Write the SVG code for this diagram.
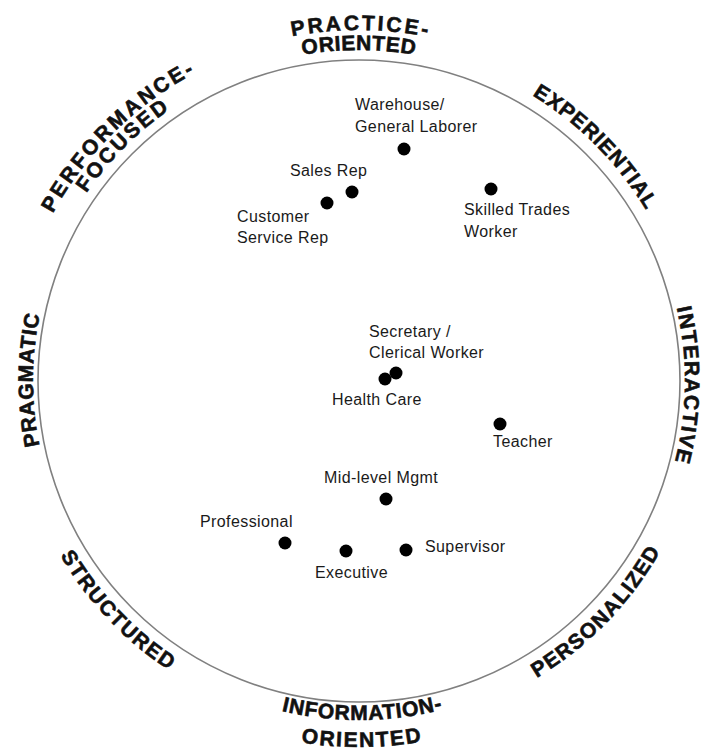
<svg xmlns="http://www.w3.org/2000/svg" xmlns:xlink="http://www.w3.org/1999/xlink" width="705" height="753" viewBox="0 0 705 753">
<style>
.ring{fill:none;stroke:#808080;stroke-width:1.6}
.dot{fill:#000}
.lbl{font-family:"Liberation Sans",Arial,sans-serif;font-size:16px;letter-spacing:0.4px;fill:#1a1a1a}
.arc{font-family:"Liberation Sans",Arial,sans-serif;font-size:21px;font-weight:bold;fill:#111;stroke:#111;stroke-width:0.6}
</style>
<defs>
<path id="t351" d="M29.17,260.96 A351,351 0 0 1 688.83,260.96"/>
<path id="t349" d="M31.04,261.64 A349,349 0 0 1 686.96,261.64"/>
<path id="t331" d="M47.96,267.8 A331,331 0 0 1 670.04,267.8"/>
<path id="t334" d="M45.14,266.77 A334,334 0 0 1 672.86,266.77"/>
<path id="t326" d="M52.66,269.51 A326,326 0 0 1 665.34,269.51"/>
<path id="b339" d="M40.44,496.94 A339,339 0 0 0 677.56,496.94"/>
<path id="b366" d="M15.07,506.17 A366,366 0 0 0 702.93,506.17"/>
<path id="b346" d="M33.86,499.33 A346,346 0 0 0 684.14,499.33"/>
</defs>
<rect width="705" height="753" fill="#fff"/>
<circle class="ring" cx="359" cy="381" r="321"/>
<g id="axis-labels">
<g id="practice-oriented">
<text class="arc" transform="rotate(0.3 359 381)" letter-spacing="2.7"><textPath xlink:href="#t351" href="#t351" startOffset="50%" text-anchor="middle">PRACTICE-</textPath></text>
<text class="arc" letter-spacing="0.6"><textPath xlink:href="#t331" href="#t331" startOffset="50%" text-anchor="middle">ORIENTED</textPath></text>
</g>
<g id="performance-focused">
<text class="arc" transform="rotate(-44.5 359 381)" letter-spacing="2.8"><textPath xlink:href="#t349" href="#t349" startOffset="50%" text-anchor="middle">PERFORMANCE-</textPath></text>
<text class="arc" transform="rotate(-45 359 381)" letter-spacing="2.6"><textPath xlink:href="#t331" href="#t331" startOffset="50%" text-anchor="middle">FOCUSED</textPath></text>
</g>
<g id="experiential">
<text class="arc" transform="rotate(45.3 359 381)" letter-spacing="0.9"><textPath xlink:href="#t334" href="#t334" startOffset="50%" text-anchor="middle">EXPERIENTIAL</textPath></text>
</g>
<g id="interactive">
<text class="arc" transform="rotate(90.8 359 381)" letter-spacing="1.5"><textPath xlink:href="#t326" href="#t326" startOffset="50%" text-anchor="middle">INTERACTIVE</textPath></text>
</g>
<g id="pragmatic">
<text class="arc" transform="rotate(-89.8 359 381)" letter-spacing="0.8"><textPath xlink:href="#t326" href="#t326" startOffset="50%" text-anchor="middle">PRAGMATIC</textPath></text>
</g>
<g id="information-oriented">
<text class="arc" transform="rotate(-0.6 359 381)" letter-spacing="0.8"><textPath xlink:href="#b339" href="#b339" startOffset="50%" text-anchor="middle">INFORMATION-</textPath></text>
<text class="arc" transform="rotate(-0.5 359 381)" letter-spacing="1.8"><textPath xlink:href="#b366" href="#b366" startOffset="50%" text-anchor="middle">ORIENTED</textPath></text>
</g>
<g id="structured">
<text class="arc" transform="rotate(46.4 359 381)" letter-spacing="1.6"><textPath xlink:href="#b346" href="#b346" startOffset="50%" text-anchor="middle">STRUCTURED</textPath></text>
</g>
<g id="personalized">
<text class="arc" transform="rotate(-45.8 359 381)" letter-spacing="1.3"><textPath xlink:href="#b346" href="#b346" startOffset="50%" text-anchor="middle">PERSONALIZED</textPath></text>
</g>
</g>
<g id="warehouse"><circle class="dot" cx="404" cy="149" r="6.5"/><text class="lbl" x="355" y="110">Warehouse/</text><text class="lbl" x="355" y="132">General Laborer</text></g>
<g id="sales-rep"><circle class="dot" cx="352" cy="192" r="6.5"/><text class="lbl" x="290" y="176">Sales Rep</text></g>
<g id="customer-service-rep"><circle class="dot" cx="327" cy="203" r="6.5"/><text class="lbl" x="237" y="222">Customer</text><text class="lbl" x="237" y="243">Service Rep</text></g>
<g id="skilled-trades"><circle class="dot" cx="491" cy="189" r="6.5"/><text class="lbl" x="464" y="215">Skilled Trades</text><text class="lbl" x="464" y="237">Worker</text></g>
<g id="secretary"><circle class="dot" cx="396" cy="373" r="6.5"/><text class="lbl" x="369" y="337">Secretary /</text><text class="lbl" x="369" y="358">Clerical Worker</text></g>
<g id="health-care"><circle class="dot" cx="385" cy="379" r="6.5"/><text class="lbl" x="332" y="405">Health Care</text></g>
<g id="teacher"><circle class="dot" cx="500" cy="424" r="6.5"/><text class="lbl" x="493" y="447">Teacher</text></g>
<g id="mid-level-mgmt"><circle class="dot" cx="386" cy="499" r="6.5"/><text class="lbl" x="324" y="483">Mid-level Mgmt</text></g>
<g id="professional"><circle class="dot" cx="285" cy="543" r="6.5"/><text class="lbl" x="200" y="527">Professional</text></g>
<g id="executive"><circle class="dot" cx="346" cy="551" r="6.5"/><text class="lbl" x="315" y="578">Executive</text></g>
<g id="supervisor"><circle class="dot" cx="406" cy="550" r="6.5"/><text class="lbl" x="425" y="552">Supervisor</text></g>
</svg>
